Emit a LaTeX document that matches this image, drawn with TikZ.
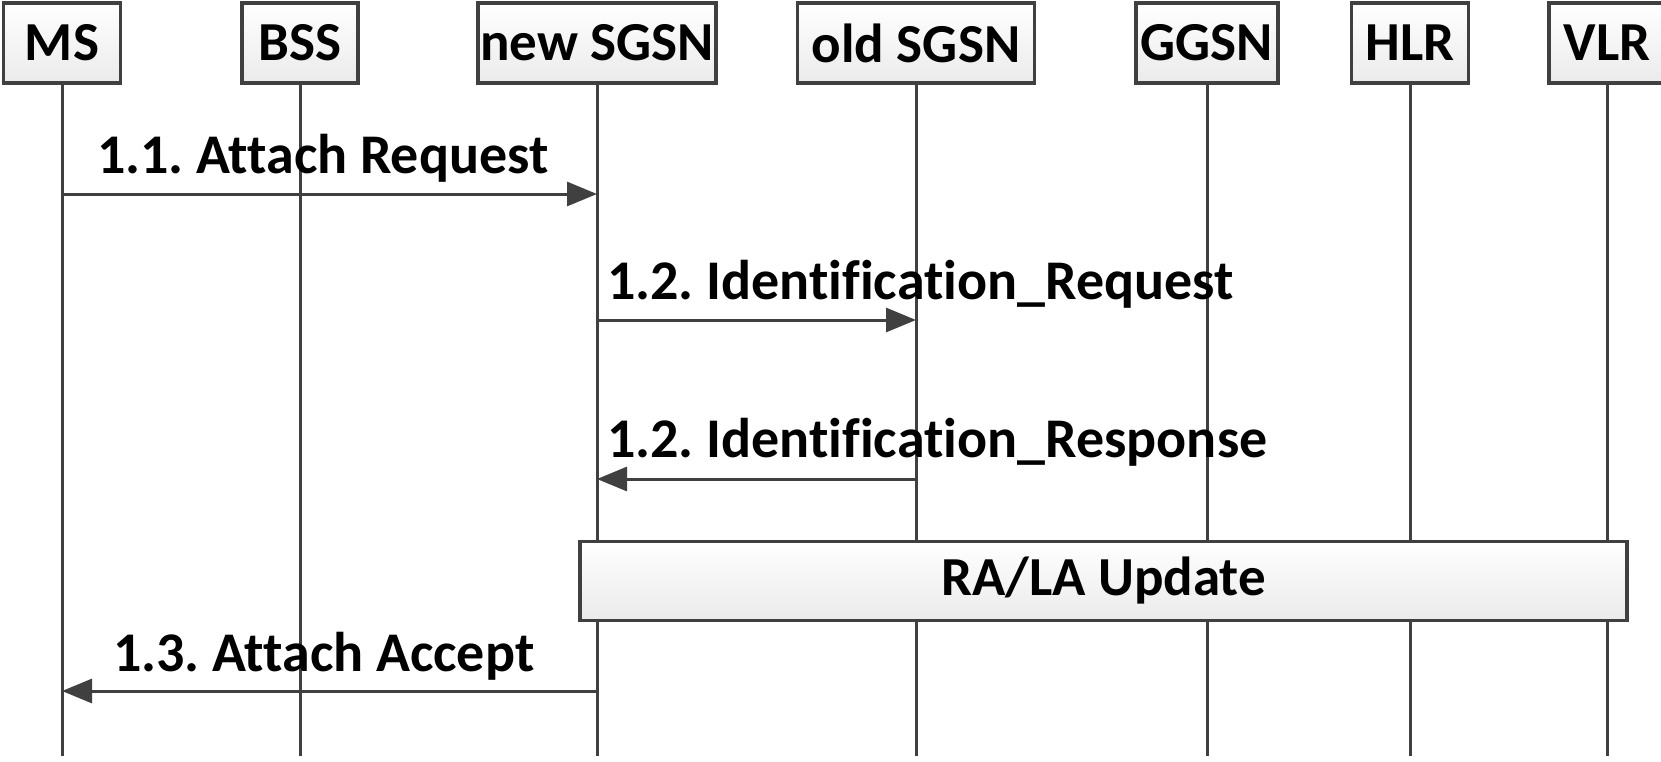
\documentclass[tikz,border=0pt]{standalone}
\usepackage{fontspec}
\setmainfont{Carlito}[Ligatures=NoCommon]
\usetikzlibrary{arrows.meta}
\definecolor{ink}{HTML}{404040}
\frenchspacing
\begin{document}
\begin{tikzpicture}[x=1pt,y=-1pt,
  head/.style={draw=ink, line width=3.5pt, top color=white, bottom color=black!8,
    minimum height=80pt, inner sep=0pt, text=black,
    font=\fontsize{55}{60}\selectfont\bfseries},
  life/.style={draw=ink, line width=3pt},
  msg/.style={draw=ink, line width=3pt, -{Triangle[length=30pt,width=24pt]}},
  lbl/.style={anchor=base west, inner sep=0pt, text=black,
    font=\fontsize{56}{62}\selectfont\bfseries}]
\useasboundingbox (0,0) rectangle (1661,761);

% lifeline heads
\node[head, minimum width=117pt] (ms)   at (62,43)   {MS};
\node[head, minimum width=116pt] (bss)  at (300,43)  {BSS};
\node[head, minimum width=238pt] (nsg)  at (597,43)  {new SGSN};
\node[head, minimum width=237pt] (osg)  at (916,43)  {old SGSN};
\node[head, minimum width=142pt] (ggsn) at (1207,43) {GGSN};
\node[head, minimum width=117pt] (hlr)  at (1410,43) {HLR};
\node[head, minimum width=116pt] (vlr)  at (1607,43) {VLR};

% message rows and bottom of the lifelines
\coordinate (r1) at (0,194);
\coordinate (r2) at (0,320);
\coordinate (r3) at (0,479);
\coordinate (r4) at (0,691);
\coordinate (bot) at (0,756);

% lifelines
\foreach \n in {ms,bss,nsg,osg,ggsn,hlr,vlr}{
  \draw[life] (\n.south) -- (\n.south |- bot);
}

% messages
\draw[msg] (ms.south |- r1) -- (nsg.south |- r1);
\node[lbl] (t1) at (97,173) {1.1. Attach Request};

\draw[msg] (nsg.south |- r2) -- (osg.south |- r2);
\node[lbl] (t2) at (607,299) {1.2. Identification\_Request};

\draw[msg] (osg.south |- r3) -- (nsg.south |- r3);
\node[lbl] (t3) at (607,457) {1.2. Identification\_Response};

% routing / location area update spanning new SGSN to VLR
\node[head, minimum width=1047pt, minimum height=79pt] (ra) at (1103.5,581) {RA/LA Update};

\draw[msg] (nsg.south |- r4) -- (ms.south |- r4);
\node[lbl] (t4) at (113,671) {1.3. Attach Accept};
\end{tikzpicture}
\end{document}
